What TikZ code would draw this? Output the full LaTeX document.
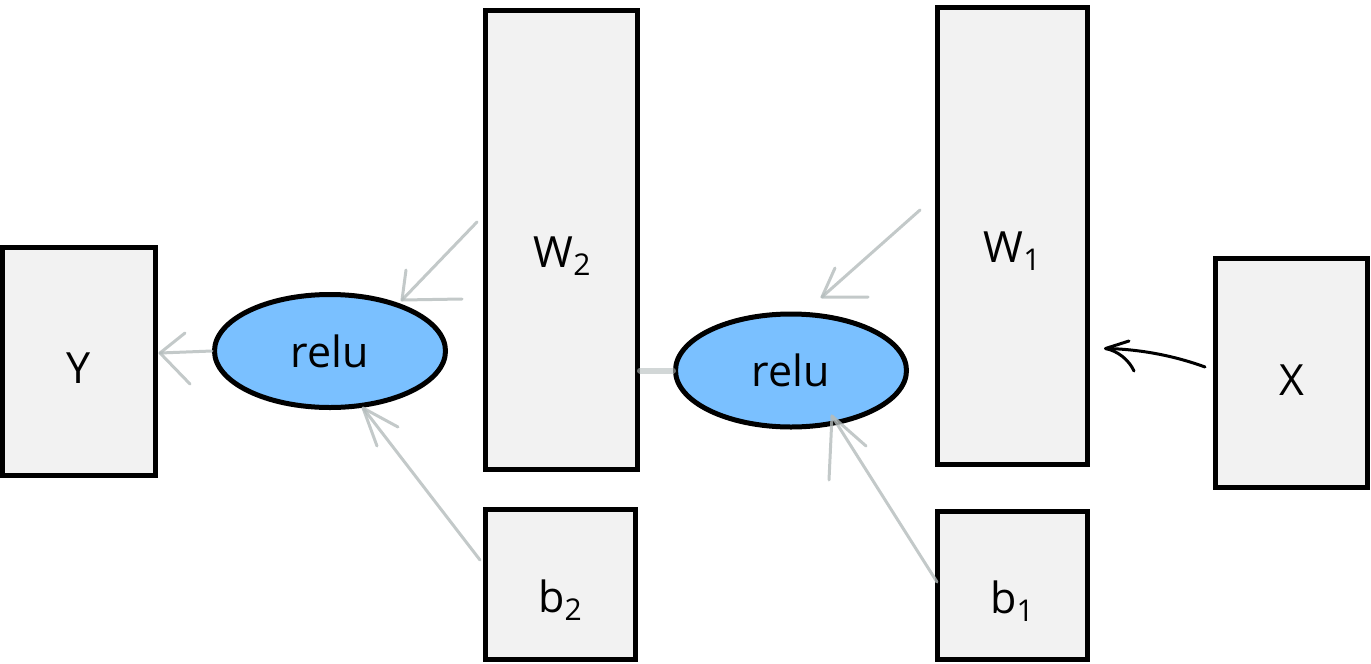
\documentclass[tikz,border=0pt]{standalone}
\usepackage{fontspec}
\setmainfont{Open Sans}
\usetikzlibrary{shapes.geometric,calc}
\definecolor{boxfill}{HTML}{F2F2F2}
\definecolor{relublue}{RGB}{122,192,255}
\definecolor{pencilgray}{RGB}{180,188,188}
\newcommand\subtxt[1]{\raisebox{-0.2em}{\fontsize{30}{32}\selectfont #1}}
\begin{document}
\begin{tikzpicture}[x=1pt,y=-1pt,
  box/.style={draw=black,line width=5pt,fill=boxfill,rectangle,inner sep=0pt},
  relu/.style={draw=black,line width=5pt,fill=relublue,ellipse,inner sep=0pt,
    minimum width=231pt,minimum height=113pt,font=\fontsize{43}{50}\selectfont},
  lbl/.style={font=\fontsize{43}{50}\selectfont,inner sep=0pt,anchor=center},
  pencilline/.style={draw=pencilgray,line width=3pt,line cap=round,line join=round,opacity=0.8},
  inkline/.style={draw=black,line width=3pt,line cap=round,line join=round}]
\useasboundingbox (0,0) rectangle (1371,664);

% boxes
\node[box,minimum width=153pt,minimum height=228pt] (Y)  at (79,361.5) {};
\node[box,minimum width=152pt,minimum height=459pt] (W2) at (561.5,240) {};
\node[box,minimum width=150pt,minimum height=150pt] (b2) at (560.5,584.5) {};
\node[box,minimum width=150pt,minimum height=457pt] (W1) at (1012.5,236) {};
\node[box,minimum width=150pt,minimum height=148pt] (b1) at (1012.5,585.5) {};
\node[box,minimum width=152pt,minimum height=229pt] (X)  at (1291.5,373) {};

% labels
\node[lbl] (tY)  at (79,368) {Y};
\node[lbl] (tW2) at (562,256) {W\subtxt{2}};
\node[lbl] (tb2) at (560,600) {b\subtxt{2}};
\node[lbl] (tW1) at (1012,251) {W\subtxt{1}};
\node[lbl] (tb1) at (1012,601) {b\subtxt{1}};
\node[lbl] (tX)  at (1292,380) {X};

% relu ellipses
\node[relu] (r1) at (330,351) {\raisebox{-4pt}{relu}};
\node[relu] (r2) at (791,370.5) {\raisebox{-4pt}{relu}};

% hand drawn black arrow X -> W1
\coordinate (xs) at ($(X.west)+(-8,-6)$);
\coordinate (xt) at ($(W1.south east)+(15.5,-118.5)$);
\draw[inkline] (xs) .. controls (1175,356) and (1140,349) .. (xt);
\draw[inkline] (1129,341) -- (xt) .. controls (1118,351) and (1129,360) .. (1134,371);

% pencil arrows
% relu1 -> Y
\coordinate (t1) at (160,353);
\draw[pencilline] (r1.west) -- (t1);
\draw[pencilline] (185,333) -- (t1) -- (190,384);
% W2 -> relu1
\coordinate (s2) at (477,222);
\coordinate (t2) at (402,300);
\draw[pencilline] (s2) -- (t2);
\draw[pencilline] (406,270) -- (t2) -- (462,299);
% b2 -> relu1
\coordinate (s3) at (480,560);
\coordinate (t3) at (363,408);
\draw[pencilline] (s3) -- (t3);
\draw[pencilline] (398,427) -- (t3) -- (377,446);
% relu2 -> W2
\draw[pencilline,line width=6pt,opacity=0.6] (r2.west) -- (W2.east |- r2.west);
% W1 -> relu2
\coordinate (s4) at (920,210);
\coordinate (t4) at (822,297);
\draw[pencilline] (s4) -- (t4);
\draw[pencilline] (835,268) -- (t4) -- (868,297);
% b1 -> relu2
\coordinate (s5) at (937,582);
\coordinate (t5) at (832,416);
\draw[pencilline] (s5) -- (t5);
\draw[pencilline] (866,446) -- (t5) -- (829,480);
\end{tikzpicture}
\end{document}
